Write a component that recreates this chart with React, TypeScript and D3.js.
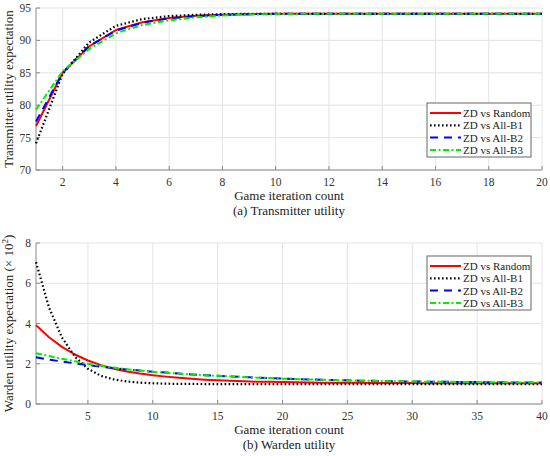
import React, { useEffect, useRef } from 'react';
import * as d3 from 'd3';

// (a) Transmitter utility, iterations 1..20
const topIter = d3.range(1, 21);
const topRandom = [76.8, 85.0, 89.1, 91.6, 92.8, 93.45, 93.8, 93.95, 94.05, 94.1, 94.1, 94.1, 94.1, 94.1, 94.1, 94.1, 94.1, 94.1, 94.1, 94.1];
const topB1 = [74.1, 84.85, 89.7, 92.25, 93.3, 93.75, 93.95, 94.05, 94.1, 94.1, 94.1, 94.1, 94.1, 94.1, 94.1, 94.1, 94.1, 94.1, 94.1, 94.1];
const topB2 = [77.5, 85.0, 89.15, 91.5, 92.75, 93.4, 93.75, 93.95, 94.05, 94.1, 94.1, 94.1, 94.1, 94.1, 94.1, 94.1, 94.1, 94.1, 94.1, 94.1];
const topB3 = [79.3, 85.25, 88.7, 91.1, 92.4, 93.1, 93.55, 93.85, 94.0, 94.05, 94.1, 94.1, 94.1, 94.1, 94.1, 94.1, 94.1, 94.1, 94.1, 94.1];
const topXTicks = [2, 4, 6, 8, 10, 12, 14, 16, 18, 20];
const topYTicks = [70, 75, 80, 85, 90, 95];

// (b) Warden utility (x 10^2), iterations 1..40
const botIter = d3.range(1, 41);
const botRandom = [3.92, 3.32, 2.84, 2.46, 2.16, 1.93, 1.75, 1.61, 1.51, 1.43, 1.36, 1.30, 1.25, 1.21, 1.18, 1.15, 1.13, 1.11, 1.10, 1.09, 1.08, 1.07, 1.06, 1.06, 1.05, 1.05, 1.04, 1.04, 1.04, 1.04, 1.03, 1.03, 1.03, 1.03, 1.03, 1.03, 1.03, 1.03, 1.03, 1.03];
const botB1 = [7.05, 4.80, 3.30, 2.35, 1.75, 1.40, 1.22, 1.12, 1.06, 1.03, 1.01, 1.00, 1.00, 0.99, 0.99, 0.99, 0.99, 0.99, 0.99, 0.99, 0.99, 0.99, 0.99, 0.99, 0.99, 0.99, 0.99, 0.99, 0.99, 0.99, 0.99, 0.99, 0.99, 0.99, 0.99, 0.99, 0.99, 0.99, 0.99, 0.99];
const botB2 = [2.32, 2.21, 2.11, 2.02, 1.93, 1.85, 1.78, 1.72, 1.66, 1.60, 1.56, 1.51, 1.47, 1.43, 1.40, 1.37, 1.34, 1.31, 1.29, 1.26, 1.24, 1.22, 1.21, 1.19, 1.18, 1.16, 1.15, 1.14, 1.13, 1.12, 1.11, 1.10, 1.10, 1.09, 1.09, 1.08, 1.08, 1.07, 1.07, 1.07];
const botB3 = [2.52, 2.38, 2.25, 2.12, 2.00, 1.90, 1.81, 1.73, 1.66, 1.60, 1.55, 1.51, 1.47, 1.43, 1.40, 1.37, 1.34, 1.31, 1.29, 1.26, 1.24, 1.22, 1.21, 1.19, 1.18, 1.16, 1.15, 1.14, 1.13, 1.12, 1.11, 1.10, 1.10, 1.09, 1.09, 1.08, 1.08, 1.07, 1.07, 1.07];
const botXTicks = [5, 10, 15, 20, 25, 30, 35, 40];
const botYTicks = [0, 2, 4, 6, 8];

const seriesNames = ['ZD vs Random', 'ZD vs All-B1', 'ZD vs All-B2', 'ZD vs All-B3'];
const seriesStyles = [
    { color: '#ff0000', dash: null, width: 2 },
    { color: '#000000', dash: '1.6,2.4', width: 2.2 },
    { color: '#0000ff', dash: '8,6', width: 2 },
    { color: '#00ee00', dash: '6,2.5,2,2.5', width: 2 },
];

const FONT = '"Liberation Serif", "Times New Roman", serif';

interface PanelOpts {
    xs: number[];
    series: number[][];
    xDomain: [number, number];
    yDomain: [number, number];
    xTicks: number[];
    yTicks: number[];
    top: number;
    bottom: number;
    yLabel: string;
    yLabelSup?: string;
    caption: string;
    legendTop: number;
}

const drawPanel = (svg: d3.Selection<SVGSVGElement, unknown, null, undefined>, o: PanelOpts) => {
    const left = 36, right = 542;
    const x = d3.scaleLinear().domain(o.xDomain).range([left, right]);
    const y = d3.scaleLinear().domain(o.yDomain).range([o.bottom, o.top]);
    const g = svg.append('g');

    // grid
    g.selectAll('line.gx').data(o.xTicks).enter().append('line')
        .attr('x1', d => x(d)).attr('x2', d => x(d))
        .attr('y1', o.top).attr('y2', o.bottom)
        .attr('stroke', '#e3e3e3').attr('stroke-width', 1);
    g.selectAll('line.gy').data(o.yTicks).enter().append('line')
        .attr('x1', left).attr('x2', right)
        .attr('y1', d => y(d)).attr('y2', d => y(d))
        .attr('stroke', '#e3e3e3').attr('stroke-width', 1);

    // axes lines
    g.append('line').attr('x1', left).attr('x2', left).attr('y1', o.top).attr('y2', o.bottom)
        .attr('stroke', '#8a8a8a').attr('stroke-width', 1);
    g.append('line').attr('x1', left).attr('x2', right).attr('y1', o.bottom).attr('y2', o.bottom)
        .attr('stroke', '#8a8a8a').attr('stroke-width', 1);

    // ticks (inward)
    g.selectAll('line.tx').data(o.xTicks).enter().append('line')
        .attr('x1', d => x(d)).attr('x2', d => x(d))
        .attr('y1', o.bottom).attr('y2', o.bottom - 4)
        .attr('stroke', '#8a8a8a');
    g.selectAll('line.ty').data(o.yTicks).enter().append('line')
        .attr('x1', left).attr('x2', left + 4)
        .attr('y1', d => y(d)).attr('y2', d => y(d))
        .attr('stroke', '#8a8a8a');

    // tick labels
    g.selectAll('text.tx').data(o.xTicks).enter().append('text')
        .attr('x', d => x(d)).attr('y', o.bottom + 16)
        .attr('text-anchor', 'middle')
        .attr('font-family', FONT).attr('font-size', 11.5).attr('fill', '#333')
        .text(d => d);
    g.selectAll('text.ty').data(o.yTicks).enter().append('text')
        .attr('x', left - 5).attr('y', d => y(d) + 4)
        .attr('text-anchor', 'end')
        .attr('font-family', FONT).attr('font-size', 11.5).attr('fill', '#333')
        .text(d => d);

    // axis labels
    const mid = (left + right) / 2;
    g.append('text').attr('x', mid).attr('y', o.bottom + 30)
        .attr('text-anchor', 'middle').attr('font-family', FONT).attr('font-size', 13).attr('fill', '#222')
        .text('Game iteration count');
    g.append('text').attr('x', mid).attr('y', o.bottom + 45)
        .attr('text-anchor', 'middle').attr('font-family', FONT).attr('font-size', 13).attr('fill', '#222')
        .text(o.caption);

    const yl = g.append('text')
        .attr('transform', `translate(13,${(o.top + o.bottom) / 2}) rotate(-90)`)
        .attr('text-anchor', 'middle').attr('font-family', FONT).attr('font-size', 13).attr('fill', '#222');
    yl.append('tspan').text(o.yLabel);
    if (o.yLabelSup) {
        yl.append('tspan').attr('dy', -5).attr('font-size', 9).text(o.yLabelSup);
        yl.append('tspan').attr('dy', 5).text(')');
    }

    // lines
    const line = d3.line<[number, number]>().x(d => x(d[0])).y(d => y(d[1]));
    o.series.forEach((vals, i) => {
        const st = seriesStyles[i];
        g.append('path')
            .datum(vals.map((v, j) => [o.xs[j], v] as [number, number]))
            .attr('d', line)
            .attr('fill', 'none')
            .attr('stroke', st.color)
            .attr('stroke-width', st.width)
            .attr('stroke-dasharray', st.dash)
            .attr('stroke-linejoin', 'round');
    });

    // legend
    const lx = 427, lw = 104, lh = 54;
    const lg = g.append('g').attr('transform', `translate(${lx},${o.legendTop})`);
    lg.append('rect').attr('width', lw).attr('height', lh)
        .attr('fill', '#fff').attr('stroke', '#666').attr('stroke-width', 1);
    seriesNames.forEach((name, i) => {
        const st = seriesStyles[i];
        const cy = 10 + i * 12.3;
        lg.append('line').attr('x1', 3).attr('x2', 34).attr('y1', cy).attr('y2', cy)
            .attr('stroke', st.color).attr('stroke-width', st.width)
            .attr('stroke-dasharray', st.dash);
        lg.append('text').attr('x', 36).attr('y', cy + 4)
            .attr('font-family', FONT).attr('font-size', 11).attr('fill', '#222')
            .text(name);
    });
};

export default function App() {
    const ref = useRef<SVGSVGElement>(null);

    useEffect(() => {
        const svg = d3.select(ref.current!);
        svg.selectAll('*').remove();
        drawPanel(svg as any, {
            xs: topIter,
            series: [topRandom, topB1, topB2, topB3],
            xDomain: [1, 20], yDomain: [70, 95],
            xTicks: topXTicks, yTicks: topYTicks,
            top: 8, bottom: 170,
            yLabel: 'Transmitter utility expectation',
            caption: '(a) Transmitter utility',
            legendTop: 103,
        });
        drawPanel(svg as any, {
            xs: botIter,
            series: [botRandom, botB1, botB2, botB3],
            xDomain: [1, 40], yDomain: [0, 8],
            xTicks: botXTicks, yTicks: botYTicks,
            top: 243, bottom: 404,
            yLabel: 'Warden utility expectation (\u00d7 10',
            yLabelSup: '2',
            caption: '(b) Warden utility',
            legendTop: 256,
        });
    }, []);

    return (
        <svg ref={ref} width={550} height={456}
            style={{ position: 'absolute', left: 0, top: 0, background: '#fff' }} />
    );
}
